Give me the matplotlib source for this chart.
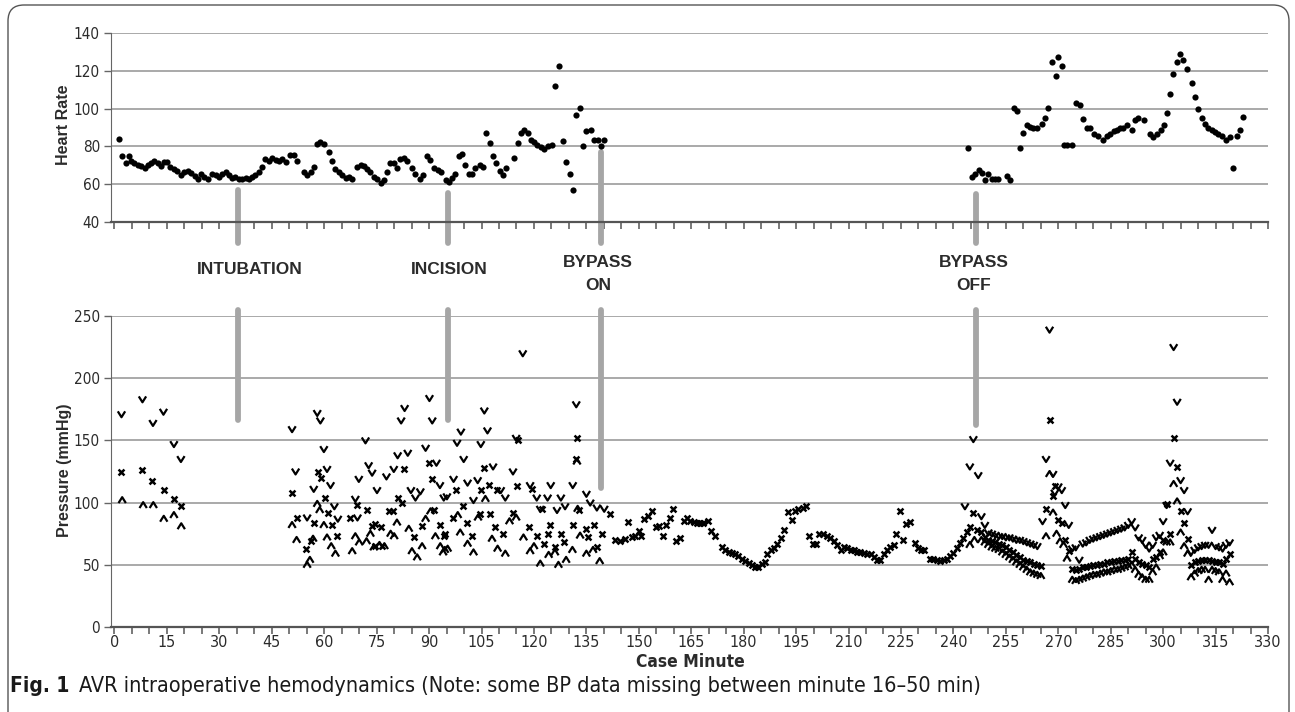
import matplotlib

matplotlib.use("Agg")
import matplotlib.pyplot as plt
from matplotlib.patches import FancyBboxPatch
from matplotlib.path import Path
from matplotlib.ticker import MultipleLocator

# --- data (case minute, value) ---------------------------------------------------

hr_pre = [
    (1.2, 84), (2.2, 75), (3.2, 71), (4.1, 75), (4.8, 72.5), (5.7, 71), (6.7, 70), (7.6, 69.5),
    (8.6, 68.5), (9.5, 70), (10.5, 71), (11.4, 72.5), (12.4, 71), (13.2, 69.5), (14.1, 72),
    (15.1, 72), (16, 69), (17, 68), (18, 67), (19.1, 65), (20, 66.5), (21, 67), (22, 66),
    (23, 64.5), (23.8, 63), (24.8, 65.5), (25.7, 64), (26.7, 63), (27.9, 65.5), (28.9, 65),
    (29.9, 64), (30.8, 65.5), (31.8, 66.5), (32.7, 65), (33.7, 63.5), (34.6, 64), (35.6, 63),
    (36.5, 63), (37.5, 63.5), (38.4, 63), (39.4, 64), (40.3, 65), (41.3, 66.5), (42.2, 69),
    (43.2, 73.5), (44.1, 72.5), (45.1, 74), (46.1, 73), (47, 72.5), (48, 73.5), (49, 72),
    (50.3, 75.5), (51.3, 75.5), (52.2, 72.5), (54.1, 66.5), (55.1, 65), (56.1, 66.5), (57, 69),
    (58, 81.5), (58.9, 82.5), (59.9, 81.5), (61.3, 77), (62.3, 72.5), (63.2, 68), (64.2, 66.5),
    (65.1, 65), (66.1, 63.5), (67, 64), (68, 63), (69.4, 69), (70.4, 70), (71.3, 69.5),
    (72.3, 68), (73.2, 66.5), (74.2, 64), (75.1, 63), (76.1, 60.5), (77, 62), (78, 66.5),
    (78.9, 71), (79.9, 71), (80.8, 68.5), (81.8, 73.5), (82.8, 74), (83.7, 72.5), (85.1, 68.5),
    (86.1, 65.5), (87.3, 62.5), (88.3, 65), (89.4, 75), (90.4, 73), (91.3, 68.5), (92.5, 67.5),
    (93.4, 66.5), (94.7, 62), (95.6, 61), (96.5, 63.5), (97.5, 65.5), (98.5, 75), (99.4, 76),
    (100.4, 70), (101.3, 65.5), (102.3, 65.5), (103.2, 68.5), (104.5, 70), (105.4, 69),
    (106.4, 87), (107.3, 82), (108.3, 75), (109.2, 71), (110.2, 67), (111.1, 65), (112.1, 68.5),
    (114.4, 74), (115.3, 82), (116.3, 87), (117.2, 88.5), (118.2, 87), (119.1, 83.5),
    (120.1, 82.5), (121, 80.5), (122, 79.5), (122.9, 78.5), (123.9, 80), (125.1, 80.5),
    (126.1, 112), (127.3, 122.5), (128.3, 83), (129.2, 72), (130.2, 65.5), (131.1, 57),
    (132.1, 96.5), (133.1, 100.5), (134, 80), (135, 88), (136.3, 88.5), (137.3, 83.5),
    (138.2, 83.5), (139.2, 80), (140.1, 83.5),
]

hr_post = [
    (244.3, 79), (245.3, 64), (246.2, 65.5), (247.2, 67.5), (248.1, 66), (249.1, 62),
    (250, 65.5), (251, 63), (252, 62.5), (252.9, 63), (255.3, 64.5), (256.2, 62),
    (257.2, 100.5), (258.1, 98.5), (259.1, 79), (260, 87), (261, 91.5), (261.9, 90.5),
    (262.9, 90), (263.8, 89.5), (265.3, 92), (266.2, 95), (267.2, 100.5), (268.1, 124.5),
    (269.4, 117), (270, 127.5), (271.2, 122.5), (271.6, 80.5), (272.6, 80.5), (273.8, 80.5),
    (275.1, 103), (276.2, 102), (277.2, 94.5), (278.1, 90), (279.1, 89.5), (280.2, 86.5),
    (281.5, 85.5), (282.7, 83.5), (283.9, 85.5), (284.8, 86.5), (285.8, 88), (286.7, 88.5),
    (287.7, 89.5), (288.6, 90), (289.6, 91.5), (291, 88.5), (292, 94), (292.9, 95),
    (294.4, 94), (296.1, 86.5), (297.2, 85), (298.2, 86.5), (299.3, 88.5), (300.3, 91.5),
    (301.2, 97.5), (302, 107.5), (302.9, 118.5), (303.9, 124.5), (304.8, 129), (305.8, 125.5),
    (306.9, 121), (308.2, 113.5), (309.1, 106), (310.1, 100), (311, 95), (312, 92), (312.9, 90),
    (313.9, 88.5), (314.8, 87.5), (315.8, 86.5), (316.7, 85.5), (318, 83.5), (319.1, 85),
    (320, 68.5), (321, 85.5), (321.9, 88.5), (322.8, 95.5),
]

systolic = [
    (2, 171), (8, 183), (11, 164), (14, 173), (17, 147), (19, 135),
    (50.8, 159), (51.8, 125), (55.1, 88), (57, 111), (58, 172), (58.9, 166), (59.9, 143),
    (60.8, 127), (61.8, 114), (62.9, 97), (63.9, 87), (68.9, 103), (69.5, 88), (69.9, 119),
    (71.8, 150), (72.7, 130), (73.7, 124), (75.1, 110), (77.8, 121), (79.9, 127), (81, 138),
    (82, 166), (83, 176), (83.9, 140), (84.8, 110), (86.1, 104), (87.5, 109), (89, 144),
    (90.1, 184), (90.9, 166), (92.1, 132), (93.1, 114), (94.2, 104), (95.1, 105), (97, 119),
    (98, 148), (99.1, 157), (99.9, 135), (101, 116), (102.7, 102), (103.9, 118), (104.8, 147),
    (105.8, 174), (106.7, 158), (108.3, 129), (110.5, 110), (111.8, 104), (114, 125),
    (114.9, 152), (116.8, 220), (118.9, 114), (120.8, 104), (121.8, 95), (123.9, 104),
    (124.8, 114), (126.6, 94), (127.7, 104), (128.9, 97), (131.1, 114), (132.1, 179),
    (135, 107), (136.1, 100), (138, 96), (140.1, 95),
    (243.3, 97), (244.7, 129), (245.7, 151), (247.1, 122), (248, 89), (249, 82), (250, 76),
    (251, 75), (252, 74), (253, 73), (254, 73), (255, 72), (256, 72), (257, 71), (258, 70),
    (259, 70), (260, 69), (261, 68), (262, 67), (263, 66), (264, 65), (265.5, 85),
    (266.5, 135), (267.5, 239), (268.5, 123), (269, 108), (270, 113), (271, 110), (272, 98),
    (273, 82), (274, 63), (275, 64), (276, 54), (277, 67), (278, 68), (279, 70), (280, 71),
    (281, 72), (282, 73), (283, 74), (284, 75), (285, 76), (286, 77), (287, 78), (288, 79),
    (289, 80), (290, 82), (291, 85), (292, 80), (293, 72), (294, 70), (295, 66), (296, 63),
    (297, 66), (298, 72), (299, 74), (300, 85), (301, 98), (302, 132), (303, 225), (304, 181),
    (305, 118), (306, 110), (307, 93), (308, 60), (309, 62), (310, 64), (311, 65), (312, 66),
    (313, 66), (314, 78), (315, 65), (316, 64), (317, 63), (318, 66), (319, 68),
]

mean_bp = [
    (2, 125), (8, 126), (10.8, 117), (14.1, 110), (17, 103), (18.9, 97),
    (50.8, 108), (52.1, 88), (54.9, 63), (56.1, 69), (57.2, 84), (58.2, 125), (59.1, 120),
    (60.1, 104), (61, 92), (62.3, 82), (63.7, 73), (67.5, 88), (69.4, 98), (72.3, 94),
    (73.7, 81), (74.4, 83), (74.6, 65), (76.1, 80), (76.6, 65), (78.5, 93), (79.7, 93),
    (81, 104), (82.3, 100), (82.9, 127), (85.8, 72), (88, 81), (89.9, 132), (90.9, 119),
    (91.5, 94), (93.1, 82), (94.2, 73), (94.6, 75), (96.8, 88), (97.8, 110), (99.7, 97),
    (100.8, 84), (102.3, 73), (104.5, 91), (104.8, 110), (105.8, 128), (107, 114), (107.5, 91),
    (108.9, 80), (109.4, 110), (111.1, 75), (114, 92), (115.1, 113), (115.3, 150), (118.7, 80),
    (119.4, 111), (120.8, 73), (122.3, 95), (122.8, 67), (123.9, 75), (124.7, 82), (126.1, 64),
    (127.7, 75), (128.7, 68), (131.1, 82), (132.1, 135), (132.3, 152), (133, 94), (135, 79),
    (135.5, 72), (137.2, 82), (138, 64), (139.5, 75), (141.8, 91), (143.2, 70), (144.7, 69),
    (146.1, 71), (146.8, 84.5), (148, 72.5), (149, 73.5), (150, 77), (150.6, 73.5),
    (151.6, 86.5), (152.5, 89.5), (153.8, 93), (155, 80), (155.9, 81), (156.9, 73.5),
    (157.9, 82), (158.8, 88), (159.8, 95), (160.7, 69), (161.7, 71.5), (162.8, 85.5),
    (163.8, 88), (164.7, 85.5), (165.7, 84.5), (166.6, 84), (167.6, 83.5), (168.5, 83.5),
    (169.7, 85.5), (170.6, 77), (171.9, 73), (173.8, 64.5), (174.7, 62), (175.7, 60.5),
    (176.6, 59.5), (177.6, 58.5), (178.5, 57), (179.5, 55), (180.4, 53), (181.4, 51.5),
    (182.3, 49.5), (183.3, 48), (184.2, 48.5), (185.2, 50.5), (186.1, 52), (186.8, 58.5),
    (187.7, 61.5), (188.7, 63.5), (189.6, 67), (190.6, 71.5), (191.5, 78), (192.8, 92.5),
    (193.7, 86), (194.7, 93), (195.6, 94.5), (196.9, 95.5), (197.8, 97), (198.8, 73.5),
    (199.7, 67), (200.7, 67), (201.6, 74.5), (202.8, 75), (203.7, 73.5), (204.7, 71.5),
    (205.8, 69), (206.8, 66), (207.7, 61.5), (208.7, 64.5), (209.6, 63.5), (210.6, 62),
    (211.5, 61.5), (212.5, 60.5), (213.4, 60.5), (214.4, 59.5), (215.3, 59), (216.3, 58.5),
    (217.2, 56.5), (218.2, 54), (219.1, 53.5), (220.1, 58.5), (221, 61.5), (222, 64),
    (222.9, 66), (223.7, 74.5), (224.6, 93.5), (225.6, 70), (226.5, 82.5), (227.7, 84.5),
    (228.9, 67.5), (229.8, 63.5), (230.8, 61.5), (231.7, 61.5), (233.4, 55), (234.3, 55),
    (235.3, 54), (236.2, 53), (237.2, 53.5), (238.1, 55), (239.1, 57), (240, 59.5),
    (241, 63.5), (241.9, 67.5), (242.8, 71.5), (243.8, 76.5), (244.7, 80.5), (245.7, 92),
    (246.7, 78), (248, 76), (249, 72), (250, 70), (251, 69), (252, 68), (253, 67), (254, 66),
    (255, 64), (256, 62), (257, 60), (258, 58), (259, 56), (260, 54), (261, 53), (262, 52),
    (263, 51), (264, 50), (265, 49), (266.5, 95), (267.5, 166), (268.5, 105), (269, 113),
    (270, 86), (271, 84), (272, 70), (273, 61), (274, 47), (275, 46), (276, 47), (277, 48),
    (278, 48), (279, 49), (280, 50), (281, 50), (282, 51), (283, 51), (284, 52), (285, 52),
    (286, 53), (287, 53), (288, 54), (289, 54), (290, 55), (291, 60), (292, 55), (293, 52),
    (294, 51), (295, 50), (296, 48), (297, 55), (298, 56), (299, 60), (300, 70), (301, 99),
    (302, 75), (303, 152), (304, 129), (305, 93), (306, 84), (307, 71), (308, 50), (309, 52),
    (310, 53), (311, 54), (312, 54), (313, 54), (314, 53), (315, 52), (316, 52), (317, 51),
    (318, 55), (319, 59),
]

diastolic = [
    (2.2, 102), (8.2, 98), (11.1, 98), (14.1, 87), (17, 90), (19.1, 81),
    (50.8, 82), (52.1, 70), (55.1, 50), (55.9, 54), (56.8, 71), (58, 99), (58.7, 94),
    (59.9, 82), (60.8, 72), (62, 65), (63.2, 59), (68, 61), (68.9, 73), (70, 68), (72.1, 69),
    (73.2, 75), (74.2, 64), (75.8, 66), (77.2, 65), (79, 75), (80, 73), (80.8, 84), (84.2, 79),
    (85.1, 61), (86.6, 56), (88, 65), (89, 87), (90.4, 93), (91.8, 73), (93.2, 65), (94, 60),
    (94.5, 62), (95.3, 63), (98.2, 90), (98.9, 76), (101, 67), (102.7, 60), (104, 88),
    (106.1, 103), (108, 71), (109.6, 63), (111.8, 59), (113, 85), (114.9, 88), (117, 72),
    (118.9, 61), (120, 65), (121.8, 51), (124.2, 58), (126, 60), (127, 50), (129.2, 54),
    (131, 62), (132.3, 133), (132.5, 95), (133.2, 73.5), (135, 59), (136.9, 62), (138.8, 53),
    (244.7, 66), (246, 70), (248, 70), (249, 68), (250, 66), (251, 64), (252, 63), (253, 62),
    (254, 60), (255, 58), (256, 56), (257, 54), (258, 52), (259, 50), (260, 48), (261, 46),
    (262, 44), (263, 43), (264, 42), (265, 41), (266.5, 73), (267.5, 123), (268.5, 92),
    (269.5, 75), (270.5, 69), (271.5, 66), (272.5, 55), (274, 38), (275, 37), (276, 38),
    (277, 39), (278, 40), (279, 41), (280, 42), (281, 42), (282, 43), (283, 44), (284, 44),
    (285, 45), (286, 46), (287, 46), (288, 47), (289, 48), (290, 49), (291, 50), (292, 46),
    (293, 42), (294, 40), (295, 38), (296, 38), (297, 44), (298, 48), (299, 57), (300, 60),
    (301, 68), (302, 68), (303, 115), (304, 101), (305, 76), (306, 65), (307, 59), (308, 40),
    (309, 43), (310, 45), (311, 46), (312, 46), (313, 38), (314, 46), (315, 45), (316, 44),
    (317, 38), (318, 43), (319, 36),
]

events = [("INTUBATION", 35.3), ("INCISION", 95.4), ("BYPASS\nON", 139.2), ("BYPASS\nOFF", 246.5)]
# (top of HR stub, bottom of pressure stub) for each event line
event_hr_top = [57, 55.5, 77, 55]
event_bp_low = [166, 166, 112, 162]

# --- figure ---------------------------------------------------------------------

W, H = 1295, 712
fig = plt.figure(figsize=(W / 100, H / 100), dpi=100)
NARROW = dict(family="DejaVu Sans", stretch="condensed")
ARIAL = dict(family=["Liberation Sans", "DejaVu Sans"])
GRID = "#a9a9a9"
INK = "#2b2b2b"
EVENT = "#a6a6a6"


def fx(px):
    return px / W


def fy(py):
    return 1 - py / H


left, right = 111, 1268
ax_hr = fig.add_axes([fx(left), fy(222), fx(right) - fx(left), fy(33) - fy(222)])
ax_bp = fig.add_axes([fx(left), fy(627), fx(right) - fx(left), fy(316) - fy(627)])

V_DOWN = Path([(-1, 0.8), (0, -0.8), (1, 0.8)], [Path.MOVETO, Path.LINETO, Path.LINETO])
V_UP = Path([(-1, -0.8), (0, 0.8), (1, -0.8)], [Path.MOVETO, Path.LINETO, Path.LINETO])

for ax, (lo, hi, step) in ((ax_hr, (40, 140, 20)), (ax_bp, (0, 250, 50))):
    ax.set_xlim(-1, 330)
    ax.set_ylim(lo, hi)
    ax.yaxis.set_major_locator(MultipleLocator(step))
    ax.xaxis.set_major_locator(MultipleLocator(15))
    ax.xaxis.set_minor_locator(MultipleLocator(5))
    ax.grid(axis="y", color=GRID, lw=1.4)
    ax.set_axisbelow(True)
    for s in ("top", "right"):
        ax.spines[s].set_visible(False)
    ax.spines["left"].set_color("#666666")
    ax.spines["bottom"].set_color("#555555")
    ax.spines["bottom"].set_linewidth(1.6)
    ax.tick_params(axis="x", which="both", direction="out", length=5, width=1.1, color="#555555")
    ax.tick_params(axis="y", which="major", direction="out", length=5, width=1.0, color="#666666",
                   labelsize=11, labelcolor=INK, pad=3)
    for lab in ax.get_yticklabels():
        lab.set_fontfamily(NARROW["family"])
        lab.set_fontstretch(NARROW["stretch"])

ax_hr.tick_params(axis="x", labelbottom=False)
ax_bp.tick_params(axis="x", labelsize=11.5, labelcolor=INK, pad=1)
for lab in ax_bp.get_xticklabels():
    lab.set_fontfamily(NARROW["family"])
    lab.set_fontstretch(NARROW["stretch"])

# heart rate dots
for series in (hr_pre, hr_post):
    m, v = zip(*series)
    ax_hr.scatter(m, v, s=20, color="black", lw=0, zorder=3)

# pressure markers
m, v = zip(*systolic)
ax_bp.scatter(m, v, s=28, marker=V_DOWN, facecolors="none", edgecolors="black", linewidths=1.6, zorder=3)
m, v = zip(*mean_bp)
ax_bp.scatter(m, v, s=18, marker="x", color="black", linewidths=1.8, zorder=3)
m, v = zip(*diastolic)
ax_bp.scatter(m, v, s=28, marker=V_UP, facecolors="none", edgecolors="black", linewidths=1.6, zorder=3)

# event stubs and labels
for (name, minute), top, low in zip(events, event_hr_top, event_bp_low):
    ax_hr.plot([minute, minute], [top, 29], color=EVENT, lw=4.2, solid_capstyle="round",
               clip_on=False, zorder=2)
    ax_bp.plot([minute, minute], [255, low], color=EVENT, lw=4.2, solid_capstyle="round",
               clip_on=False, zorder=2)

label_px = {"INTUBATION": (250, 270), "INCISION": (449, 270), "BYPASS\nON": (598, 274), "BYPASS\nOFF": (974, 274)}
for name, _ in events:
    x, y = label_px[name]
    fig.text(fx(x), fy(y), name, ha="center", va="center", fontsize=12.5, fontweight="bold",
             color=INK, linespacing=1.6, **ARIAL)

fig.text(fx(64), fy(125), "Heart Rate", rotation=90, ha="center", va="center", fontsize=11.5,
         fontweight="bold", color=INK, **ARIAL)
fig.text(fx(64), fy(470), "Pressure (mmHg)", rotation=90, ha="center", va="center", fontsize=11.5,
         fontweight="bold", color=INK, **ARIAL)
fig.text(fx(690), fy(662), "Case Minute", ha="center", va="center", fontsize=12.5,
         fontweight="bold", color=INK, **NARROW)

# caption: bold figure number, then the title right after it
cap_num = fig.text(fx(10), fy(686), "Fig. 1", ha="left", va="center", fontsize=15, fontweight="bold",
                   color="#1a1a1a", **NARROW)
renderer = fig.canvas.get_renderer()
num_right = cap_num.get_window_extent(renderer).x1
fig.text((num_right + 10) / W, fy(686),
         "AVR intraoperative hemodynamics (Note: some BP data missing between minute 16\u201350 min)",
         ha="left", va="center", fontsize=15.5, color="#1a1a1a", **NARROW)

# outer rounded frame (bottom edge runs off the picture)
frame = FancyBboxPatch((0.08, -0.3), 12.81, 7.07 + 0.3, boxstyle="round,pad=0,rounding_size=0.16",
                       transform=fig.dpi_scale_trans, fill=False, ec="#555555", lw=1.0)
fig.patches.append(frame)

fig.savefig("out.png", dpi=100)
